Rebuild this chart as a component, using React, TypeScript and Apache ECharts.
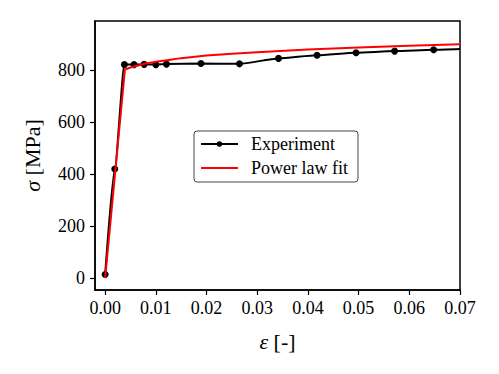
import React, { useEffect, useRef } from "react";
import * as echarts from "echarts";

const expStrain = [0, 0.0019, 0.0038, 0.0057, 0.0077, 0.01, 0.0121, 0.0189, 0.0265, 0.0342, 0.0418, 0.0495, 0.0571, 0.0648, 0.07];
const expStress = [14, 420, 822, 822, 823, 822, 824, 826, 825, 846, 858, 868, 874, 879, 882];
const expMarker = [true, true, true, true, true, true, true, true, true, true, true, true, true, true, false];

const fitStrain = [0, 0.0039, 0.005, 0.006, 0.0075, 0.01, 0.0125, 0.015, 0.02, 0.025, 0.03, 0.04, 0.05, 0.06, 0.07];
const fitStress = [0, 803, 811, 816, 824, 833, 840, 847, 857, 864, 870, 880, 888, 895, 900];

const xTicks = [0, 0.01, 0.02, 0.03, 0.04, 0.05, 0.06, 0.07];
const yTicks = [0, 200, 400, 600, 800];

const FONT = "'Liberation Serif', 'Times New Roman', serif";

export default function App() {
  const ref = useRef<HTMLDivElement>(null);
  useEffect(() => {
    if (!ref.current) return;
    const chart = echarts.init(ref.current, null, { renderer: "svg" });
    chart.setOption({
      animation: false,
      backgroundColor: "#fff",
      grid: {
        left: 95, right: 39, top: 21, bottom: 84,
        show: true, borderColor: "#000", borderWidth: 1.5, backgroundColor: "transparent",
      },
      legend: {
        left: 194, top: 131,
        orient: "vertical",
        padding: [4, 10, 5, 6],
        itemGap: 6,
        itemWidth: 37,
        itemHeight: 7,
        borderColor: "#444",
        borderWidth: 1,
        borderRadius: 3,
        backgroundColor: "#fff",
        textStyle: { fontFamily: FONT, fontSize: 18, color: "#000", padding: [0, 0, 0, 8] },
        data: [
          { name: "Experiment" },
          { name: "Power law fit", itemStyle: { opacity: 0 } },
        ],
      },
      xAxis: {
        type: "value",
        min: -0.002, max: 0.07,
        name: "{i|ε} [-]",
        nameLocation: "middle",
        nameGap: 40,
        nameTextStyle: {
          fontFamily: FONT, fontSize: 22, color: "#000",
          rich: { i: { fontFamily: FONT, fontSize: 22, fontStyle: "italic", color: "#000" } },
        },
        splitLine: { show: false },
        axisLine: { show: true, onZero: false, lineStyle: { color: "#000", width: 1.5 } },
        axisTick: { show: true, customValues: xTicks, length: 5, lineStyle: { color: "#000", width: 1.2 } },
        axisLabel: {
          customValues: xTicks,
          formatter: (v: number) => v.toFixed(2),
          fontFamily: FONT, fontSize: 18, color: "#000", margin: 9,
        },
      },
      yAxis: {
        type: "value",
        min: -46, max: 990,
        name: "{i|σ} [MPa]",
        nameLocation: "middle",
        nameGap: 52,
        nameTextStyle: {
          fontFamily: FONT, fontSize: 22, color: "#000",
          rich: { i: { fontFamily: FONT, fontSize: 22, fontStyle: "italic", color: "#000" } },
        },
        splitLine: { show: false },
        axisLine: { show: true, onZero: false, lineStyle: { color: "#000", width: 1.5 } },
        axisTick: { show: true, customValues: yTicks, length: 5, lineStyle: { color: "#000", width: 1.2 } },
        axisLabel: {
          customValues: yTicks,
          fontFamily: FONT, fontSize: 18, color: "#000", margin: 10,
        },
      },
      series: [
        {
          name: "Experiment",
          type: "line",
          data: expStrain.map((x, i) => ({
            value: [x, expStress[i]],
            symbol: expMarker[i] ? "circle" : "none",
          })),
          symbol: "circle",
          symbolSize: 7,
          smooth: 0.2,
          smoothMonotone: "x",
          lineStyle: { color: "#000", width: 2 },
          itemStyle: { color: "#000" },
          z: 2,
        },
        {
          name: "Power law fit",
          type: "line",
          data: fitStrain.map((x, i) => [x, fitStress[i]]),
          showSymbol: false,
          symbol: "none",
          lineStyle: { color: "#ff0000", width: 2 },
          itemStyle: { color: "#ff0000" },
          z: 3,
        },
      ],
    });
    return () => chart.dispose();
  }, []);
  return <div ref={ref} style={{ width: 499, height: 374, margin: -8 }} />;
}
